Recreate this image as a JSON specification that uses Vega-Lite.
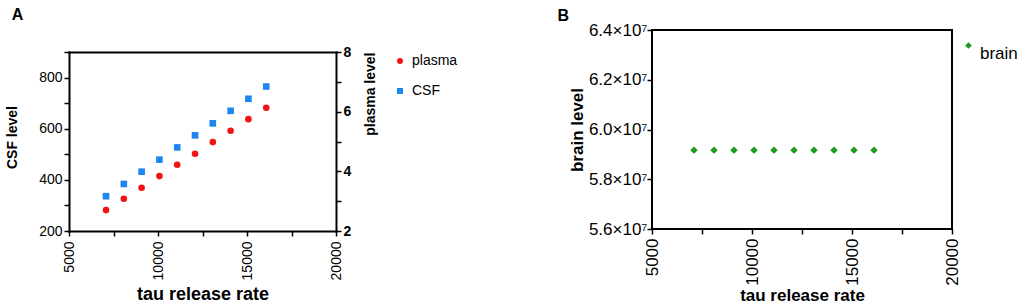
{
  "$schema": "https://vega.github.io/schema/vega-lite/v6.json",
  "background": "white",
  "padding": {"left": 5, "top": 7, "right": 0, "bottom": 0},
  "config": {
    "font": "Liberation Sans",
    "view": {"stroke": "black", "strokeWidth": 2},
    "axis": {"labelColor": "black", "titleColor": "black", "tickColor": "black", "tickWidth": 1.5, "grid": false, "domain": false, "domainColor": "black", "domainWidth": 2, "domainCap": "square", "labelFont": "Liberation Sans", "titleFont": "Liberation Sans", "labelOverlap": false, "labelFlush": false},
    "legend": {"labelFont": "Liberation Sans", "labelColor": "black"},
    "title": {"font": "Liberation Sans", "color": "black"}
  },
  "datasets": {
    "a": [
      {"rate": 7080, "series": "CSF", "value": 336},
      {"rate": 8080, "series": "CSF", "value": 384},
      {"rate": 9080, "series": "CSF", "value": 432},
      {"rate": 10080, "series": "CSF", "value": 479},
      {"rate": 11080, "series": "CSF", "value": 527},
      {"rate": 12080, "series": "CSF", "value": 574},
      {"rate": 13080, "series": "CSF", "value": 621},
      {"rate": 14080, "series": "CSF", "value": 670},
      {"rate": 15080, "series": "CSF", "value": 717},
      {"rate": 16080, "series": "CSF", "value": 765},
      {"rate": 7080, "series": "plasma", "value": 2.70},
      {"rate": 8080, "series": "plasma", "value": 3.08},
      {"rate": 9080, "series": "plasma", "value": 3.45},
      {"rate": 10080, "series": "plasma", "value": 3.84},
      {"rate": 11080, "series": "plasma", "value": 4.22},
      {"rate": 12080, "series": "plasma", "value": 4.59},
      {"rate": 13080, "series": "plasma", "value": 4.98},
      {"rate": 14080, "series": "plasma", "value": 5.36},
      {"rate": 15080, "series": "plasma", "value": 5.75},
      {"rate": 16080, "series": "plasma", "value": 6.13}
    ],
    "b": [
      {"rate": 7100, "series": "brain", "value": 59170000},
      {"rate": 8100, "series": "brain", "value": 59170000},
      {"rate": 9100, "series": "brain", "value": 59170000},
      {"rate": 10100, "series": "brain", "value": 59170000},
      {"rate": 11100, "series": "brain", "value": 59170000},
      {"rate": 12100, "series": "brain", "value": 59170000},
      {"rate": 13100, "series": "brain", "value": 59170000},
      {"rate": 14100, "series": "brain", "value": 59170000},
      {"rate": 15100, "series": "brain", "value": 59170000},
      {"rate": 16100, "series": "brain", "value": 59170000}
    ]
  },
  "columns": 2,
  "align": "none",
  "spacing": 74,
  "resolve": {"scale": {"color": "independent", "shape": "independent", "x": "independent", "y": "independent"}, "legend": {"color": "independent", "shape": "independent"}},
  "concat": [
    {
      "width": 267,
      "height": 201,
      "view": {"stroke": null},
      "title": {"text": "A", "anchor": "start", "frame": "bounds", "fontSize": 16, "fontWeight": "bold", "baseline": "alphabetic", "offset": -6, "dx": 6},
      "data": {"name": "a"},
      "encoding": {
        "color": {"field": "series", "type": "nominal", "scale": {"domain": ["plasma", "CSF"], "range": ["#f01414", "#1e86f0"]},
          "legend": {"title": null, "orient": "right", "offset": -9, "padding": 24, "labelFontSize": 14, "symbolSize": 36, "rowPadding": 16, "labelOffset": 5}},
        "shape": {"field": "series", "type": "nominal", "scale": {"domain": ["plasma", "CSF"], "range": ["circle", "square"]}, "legend": {"title": null}}
      },
      "layer": [
        {
          "transform": [{"filter": "datum.series === 'CSF'"}],
          "mark": {"type": "point", "filled": true, "size": 44, "opacity": 1},
          "encoding": {
            "x": {"field": "rate", "type": "quantitative", "scale": {"domain": [5000, 20000], "nice": false},
              "axis": {"title": "tau release rate", "domain": true, "values": [5000, 7500, 10000, 12500, 15000, 17500, 20000], "labelExpr": "datum.value % 5000 === 0 ? format(datum.value, 'd') : ''", "labelAngle": -90, "labelFontSize": 14, "titleFontSize": 18, "titleFontWeight": "bold", "titlePadding": 6, "tickSize": 5, "labelPadding": 5}},
            "y": {"field": "value", "type": "quantitative", "scale": {"domain": [200, 900], "nice": false, "zero": false, "range": [201, 22]},
              "axis": {"title": "CSF level", "titleY": 107, "domain": true, "values": [200, 300, 400, 500, 600, 700, 800, 900], "labelExpr": "datum.value % 200 === 0 ? datum.label : ''", "labelFontSize": 14, "titleFontSize": 14, "titleFontWeight": "bold", "titlePadding": 19, "tickSize": 5, "labelPadding": 2}}
          }
        },
        {
          "transform": [{"filter": "datum.series === 'plasma'"}],
          "mark": {"type": "point", "filled": true, "size": 44, "opacity": 1},
          "encoding": {
            "x": {"field": "rate", "type": "quantitative",
              "axis": {"orient": "top", "offset": -22, "title": null, "domain": true, "labels": false, "ticks": false}},
            "y": {"field": "value", "type": "quantitative", "scale": {"domain": [2, 8], "nice": false, "zero": false, "range": [201, 22]},
              "axis": {"orient": "right", "title": "plasma level", "domain": true, "values": [2, 3, 4, 5, 6, 7, 8], "labelExpr": "datum.value % 2 === 0 ? datum.label : ''", "labelFontSize": 14, "labelFontWeight": "bold", "titleFontSize": 14, "titleFontWeight": "bold", "titleAngle": 270, "titleBaseline": "top", "titleAnchor": "end", "titlePadding": 13, "tickSize": 5, "labelPadding": 2}}
          }
        }
      ],
      "resolve": {"scale": {"y": "independent"}, "axis": {"x": "independent"}}
    },
    {
      "width": 300,
      "height": 199,
      "title": {"text": "B", "anchor": "start", "frame": "bounds", "fontSize": 16, "fontWeight": "bold", "baseline": "alphabetic", "offset": -16, "dx": -11},
      "data": {"name": "b"},
      "mark": {"type": "point", "filled": true, "size": 55, "opacity": 1},
      "encoding": {
        "x": {"field": "rate", "type": "quantitative", "scale": {"domain": [5000, 20000], "nice": false},
          "axis": {"title": "tau release rate", "values": [5000, 7500, 10000, 12500, 15000, 17500, 20000], "labelExpr": "datum.value % 5000 === 0 ? format(datum.value, 'd') : ''", "labelAngle": -90, "labelFontSize": 17, "titleFontSize": 17, "titleFontWeight": "bold", "titlePadding": 2, "tickSize": 5, "labelPadding": 4}},
        "y": {"field": "value", "type": "quantitative", "scale": {"domain": [56000000, 64000000], "nice": false, "zero": false},
          "axis": {"title": "brain level", "values": [56000000, 58000000, 60000000, 62000000, 64000000], "labelExpr": "format(datum.value / 10000000, '.1f') + '×10⁷'", "labelFontSize": 17, "titleFontSize": 17, "titleFontWeight": "bold", "titlePadding": 2, "tickSize": 5, "labelPadding": 0}},
        "color": {"field": "series", "type": "nominal", "scale": {"domain": ["brain"], "range": ["#1f9a1f"]},
          "legend": {"title": null, "orient": "right", "offset": 1, "padding": 7, "labelFontSize": 17, "symbolSize": 45, "labelBaseline": "top", "labelOffset": 3}},
        "shape": {"field": "series", "type": "nominal", "scale": {"domain": ["brain"], "range": ["diamond"]}, "legend": {"title": null}}
      }
    }
  ]
}
